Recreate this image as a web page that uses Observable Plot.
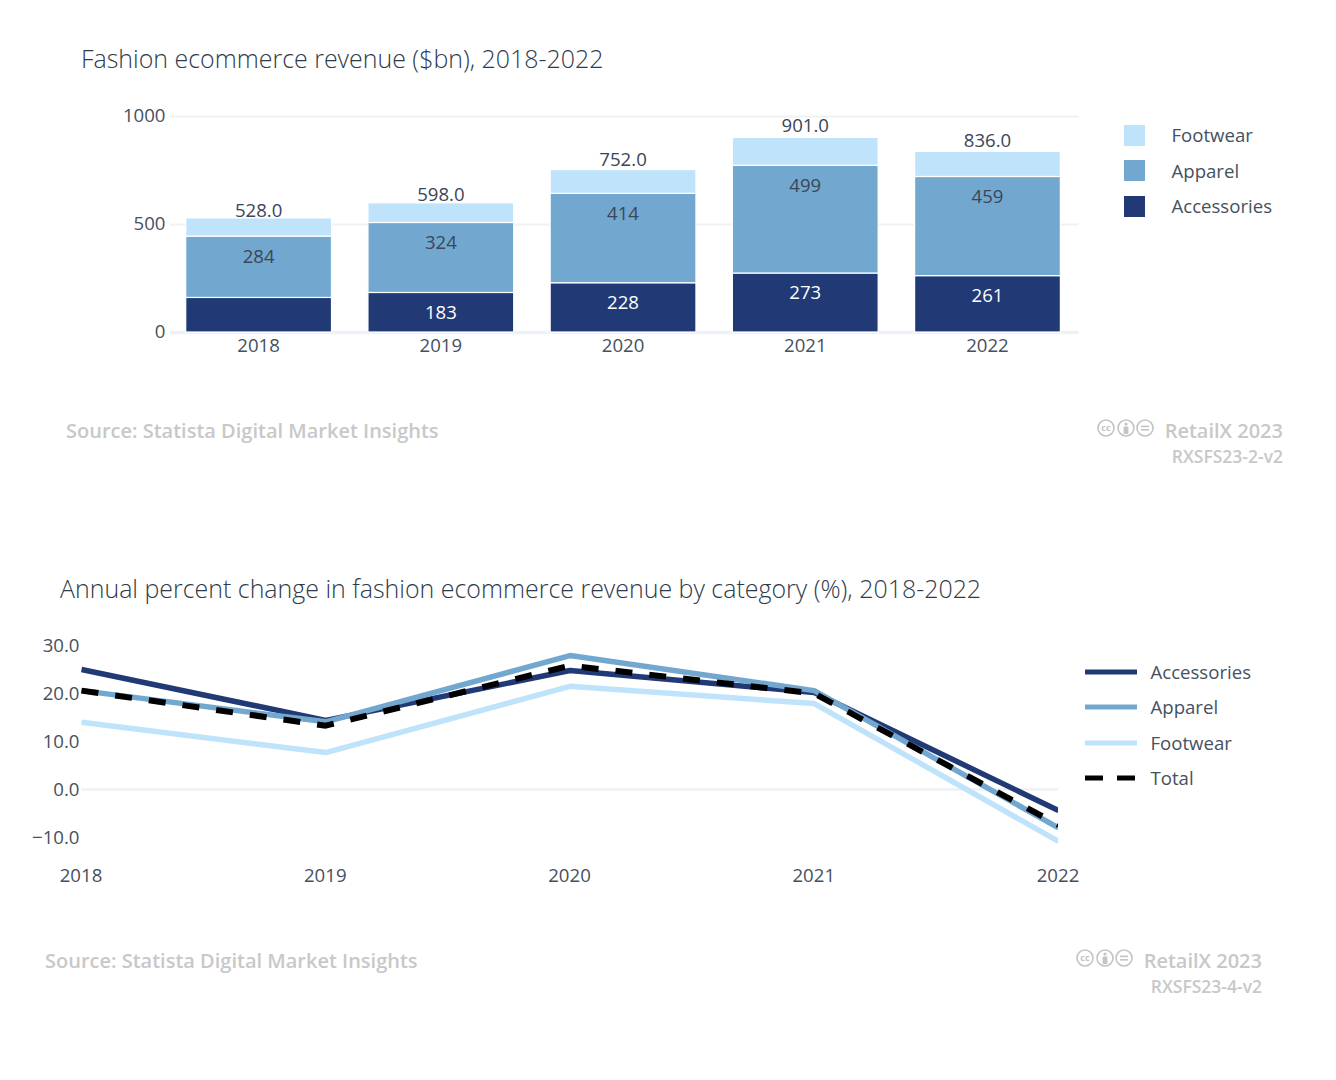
<!DOCTYPE html>
<html>
<head>
<meta charset="utf-8">
<script src="https://cdn.jsdelivr.net/npm/d3@7"></script>
<script src="https://cdn.jsdelivr.net/npm/@observablehq/plot@0.6"></script>
<style>
html,body{margin:0;padding:0;background:#fff;width:1336px;height:1080px;overflow:hidden;font-family:"Open Sans",sans-serif}
#page{position:relative;width:1336px;height:1080px}
#page svg{position:absolute;left:0}
.t{position:absolute;white-space:nowrap;line-height:1;transform:translateY(-50%)}
.r{transform:translate(-100%,-50%)}
.title{font-size:24.95px;font-weight:300;color:#2f3a4a}
.leg{font-size:18.6px;color:#46505f}
.src{font-size:20px;font-weight:600;color:#c8c8c8}
.sub{font-size:17.5px;font-weight:600;color:#c8c8c8}
</style>
</head>
<body>
<div id="page"></div>
<script>
const years = [2018, 2019, 2020, 2021, 2022];
const accessories = [160, 183, 228, 273, 261];
const apparel = [284, 324, 414, 499, 459];
const footwear = [84, 91, 110, 129, 116];
const totals = [528, 598, 752, 901, 836];
const hiddenLabels = [2018];

const pctAccessories = [25, 14.4, 24.8, 20.2, -4.4];
const pctApparel = [20.6, 14.1, 27.9, 20.6, -8];
const pctFootwear = [14, 7.7, 21.5, 17.9, -10.8];
const pctTotal = [20.6, 13.3, 25.8, 20, -7.4];

const barTicks = [0, 500, 1000];
const lineTicks = [-10, 0, 10, 20, 30];

const colors = {Accessories: "#213a75", Apparel: "#72a8d0", Footwear: "#bfe3fa", Total: "#000000"};
const tickColor = "#46505f";
const gridColor = "#eef1f5";
const page = document.getElementById("page");

function put(text, x, y, cls) {
  const d = document.createElement("div");
  d.className = "t " + cls;
  d.textContent = text;
  d.style.left = x + "px";
  d.style.top = y + "px";
  page.appendChild(d);
}

function mini(x, y, w, h, inner) {
  const ns = "http://www.w3.org/2000/svg";
  const s = document.createElementNS(ns, "svg");
  s.setAttribute("width", w); s.setAttribute("height", h);
  s.style.left = x + "px"; s.style.top = y + "px";
  s.innerHTML = inner;
  page.appendChild(s);
}

function footer(dx, dy, code) {
  put("Source: Statista Digital Market Insights", 66 + dx, 431 + dy, "src");
  put("RetailX 2023", 1283 + dx, 431 + dy, "src r");
  put(code, 1283 + dx, 456.5 + dy, "sub r");
  const g = "#c4c4c4";
  mini(1097 + dx, 418 + dy, 58, 20,
    `<g fill="none" stroke="${g}" stroke-width="1.6">
      <circle cx="9" cy="10" r="8"/><circle cx="29" cy="10" r="8"/><circle cx="48" cy="10" r="8"/>
    </g>
    <text x="9" y="13" text-anchor="middle" font-size="9" font-weight="700" fill="${g}" font-family="Open Sans">cc</text>
    <circle cx="29" cy="6" r="1.6" fill="${g}"/>
    <rect x="26.6" y="8.4" width="4.8" height="7.5" rx="1" fill="${g}"/>
    <rect x="44" y="7.6" width="8" height="1.6" fill="${g}"/>
    <rect x="44" y="11" width="8" height="1.6" fill="${g}"/>`);
}

// ---------- Top chart ----------
const stack = [];
years.forEach((year, i) => {
  stack.push({year, cat: "Accessories", value: accessories[i], y1: 0, y2: accessories[i]});
  stack.push({year, cat: "Apparel", value: apparel[i], y1: accessories[i], y2: accessories[i] + apparel[i]});
  stack.push({year, cat: "Footwear", value: footwear[i], y1: accessories[i] + apparel[i], y2: totals[i]});
});
const totalRows = years.map((year, i) => ({year, total: totals[i]}));
const tickStyle = {fontFamily: "Open Sans", fontSize: "18.6px", color: tickColor, background: "transparent", overflow: "visible"};

const top1 = Plot.plot({
  width: 1336, height: 382,
  marginLeft: 167.5, marginRight: 257.4, marginTop: 116, marginBottom: 50,
  style: tickStyle,
  x: {type: "band", domain: years, paddingInner: 0.2, paddingOuter: 0.1, round: false, label: null},
  y: {domain: [0, 1000], label: null},
  marks: [
    Plot.ruleY([500, 1000], {stroke: gridColor, strokeWidth: 2, insetLeft: 2.5}),
    Plot.ruleY([0], {stroke: gridColor, strokeWidth: 3.5, insetLeft: 2.5}),
    Plot.rectY(stack, {x: "year", y1: "y1", y2: "y2", fill: d => colors[d.cat], stroke: "#fff", strokeWidth: 1.2}),
    Plot.text(stack.filter(d => d.cat === "Apparel"), {x: "year", y: "y2", dy: 20, dx: -0.5, text: d => String(d.value), fill: "#3b4656", fontSize: 18.6}),
    Plot.text(stack.filter(d => d.cat === "Accessories" && !hiddenLabels.includes(d.year)), {x: "year", y: "y2", dy: 20, dx: -0.5, text: d => String(d.value), fill: "#ffffff", fontSize: 18.6}),
    Plot.text(totalRows, {x: "year", y: d => d.total * 1.0616, dx: -0.5, text: d => d.total.toFixed(1), fill: "#3b4656", fontSize: 18.6}),
    Plot.axisY({ticks: barTicks, tickSize: 0, tickPadding: 2.5, label: null, tickFormat: d => String(d), fill: tickColor}),
    Plot.axisX({tickSize: 0, tickPadding: 6.5, label: null, tickFormat: d => String(d), fill: tickColor, dx: -0.5})
  ]
});
top1.style.top = "0px";
page.appendChild(top1);

put("Fashion ecommerce revenue ($bn), 2018-2022", 81, 58, "title");
["Footwear", "Apparel", "Accessories"].forEach((name, i) => {
  const cy = [135, 170.5, 206][i];
  mini(1124, cy - 10.5, 21, 21, `<rect width="21" height="21" fill="${colors[name]}"/>`);
  put(name, 1171.5, cy, "leg");
});
footer(0, 0, "RXSFS23-2-v2");

// ---------- Bottom chart ----------
const series = [
  ["Accessories", pctAccessories],
  ["Apparel", pctApparel],
  ["Footwear", pctFootwear],
  ["Total", pctTotal]
];
const rows = series.flatMap(([cat, vals]) => vals.map((v, i) => ({cat, year: years[i], v})));
const dash = "17,17";

const bottom = Plot.plot({
  width: 1336, height: 300,
  marginLeft: 81, marginRight: 278, marginTop: 35.4, marginBottom: 53.4,
  style: tickStyle,
  x: {domain: [2018, 2022], label: null},
  y: {domain: [-12, 32], label: null},
  marks: [
    Plot.ruleY([0], {stroke: gridColor, strokeWidth: 2.5}),
    ...series.map(([cat]) => Plot.line(rows.filter(d => d.cat === cat), {
      x: "year", y: "v", stroke: colors[cat], strokeWidth: cat === "Total" ? 6 : 5.5, clip: "frame",
      strokeLinejoin: "miter", strokeLinecap: "butt", strokeDasharray: cat === "Total" ? dash : null
    })),
    Plot.axisY({ticks: lineTicks, tickSize: 0, tickPadding: 2, label: null, tickFormat: d3.format(".1f"), fill: tickColor, dy: 0.3}),
    Plot.axisX({ticks: years, tickSize: 0, tickPadding: 21.4, label: null, tickFormat: d => String(d), fill: tickColor, dx: -0.5})
  ]
});
bottom.style.top = "600px";
page.appendChild(bottom);

put("Annual percent change in fashion ecommerce revenue by category (%), 2018-2022", 60, 588, "title");
series.forEach(([name], i) => {
  const cy = [671.5, 707, 742.5, 778][i];
  const extra = name === "Total" ? `stroke-dasharray="18,14"` : "";
  mini(1085, cy - 4, 52, 8, `<line x1="0" x2="52" y1="4" y2="4" stroke="${colors[name]}" stroke-width="5" ${extra}/>`);
  put(name, 1150.5, cy, "leg");
});
footer(-21, 530, "RXSFS23-4-v2");
</script>
</body>
</html>
